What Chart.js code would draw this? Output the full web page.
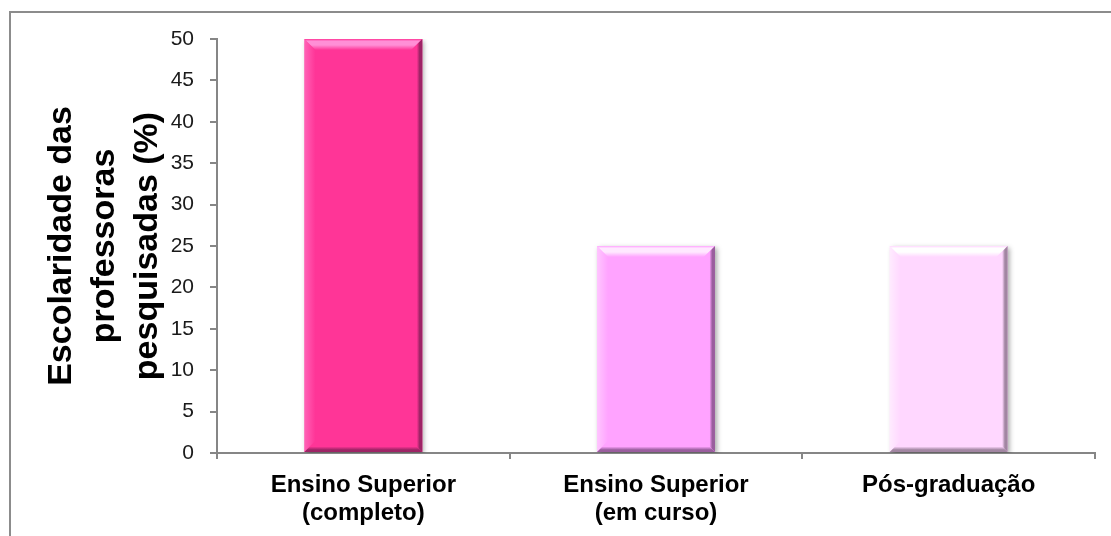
<!DOCTYPE html>
<html>
<head>
<meta charset="utf-8">
<script src="https://cdn.jsdelivr.net/npm/chart.js@4.4.0/dist/chart.umd.min.js"></script>
<style>
    html, body { margin: 0; padding: 0; background: #fff; overflow: hidden; }
    #frame {
        position: absolute; left: 9px; top: 11px;
        width: 1120px; height: 540px;
        border: 2px solid #8c8c8c;
    }
    #wrap { position: absolute; left: 0; top: 0; width: 1111px; height: 536px; }
</style>
</head>
<body>
<div id="frame"></div>
<div id="wrap"><canvas id="escolaridadeChart" width="1111" height="536"></canvas></div>
<script>
// ===================================
// DATA
// ===================================
const categories = [
    ['Ensino Superior', '(completo)'],
    ['Ensino Superior', '(em curso)'],
    ['Pós-graduação']
];
const percentages = [50, 25, 25];
const barColors = ['#FF3597', '#FFA3FF', '#FFD7FF'];
const highlightColors = ['#FF8FD6', '#FFE8FF', '#FFFFFF'];
const edgeColors = ['#9E2466', '#9A5E9E', '#A286A2'];
const yTitle = ['Escolaridade das', 'professoras', 'pesquisadas (%)'];

const AXIS_GRAY = '#868686';

/**
 * Shadow + bevel look of the bars
 */
const bevelPlugin = {
    id: 'bevel',
    beforeDatasetsDraw(chart) {
        const ctx = chart.ctx;
        ctx.save();
        ctx.shadowColor = 'rgba(0,0,0,0.35)';
        ctx.shadowBlur = 5;
        ctx.shadowOffsetX = 2;
        ctx.shadowOffsetY = 2;
    },
    afterDatasetsDraw(chart) {
        const ctx = chart.ctx;
        ctx.restore();
        const meta = chart.getDatasetMeta(0);
        meta.data.forEach((bar, i) => {
            const x0 = bar.x - bar.width / 2;
            const x1 = bar.x + bar.width / 2;
            const y0 = bar.y;
            const y1 = bar.base;
            const b = 11;

            ctx.save();
            // top bevel
            let g = ctx.createLinearGradient(0, y0, 0, y0 + b);
            g.addColorStop(0, barColors[i]);
            g.addColorStop(0.2, highlightColors[i]);
            g.addColorStop(0.55, highlightColors[i]);
            g.addColorStop(1, barColors[i]);
            ctx.fillStyle = g;
            ctx.beginPath();
            ctx.moveTo(x0, y0); ctx.lineTo(x1, y0);
            ctx.lineTo(x1 - b, y0 + b); ctx.lineTo(x0 + b, y0 + b);
            ctx.closePath(); ctx.fill();

            // left bevel
            g = ctx.createLinearGradient(x0, 0, x0 + b, 0);
            g.addColorStop(0, highlightColors[i]);
            g.addColorStop(1, barColors[i]);
            ctx.globalAlpha = 0.5;
            ctx.fillStyle = g;
            ctx.beginPath();
            ctx.moveTo(x0, y0); ctx.lineTo(x0 + b, y0 + b);
            ctx.lineTo(x0 + b, y1 - b); ctx.lineTo(x0, y1);
            ctx.closePath(); ctx.fill();
            ctx.globalAlpha = 1;

            // right bevel
            g = ctx.createLinearGradient(x1, 0, x1 - b, 0);
            g.addColorStop(0, edgeColors[i]);
            g.addColorStop(0.25, edgeColors[i]);
            g.addColorStop(0.5, barColors[i]);
            g.addColorStop(1, barColors[i]);
            ctx.fillStyle = g;
            ctx.beginPath();
            ctx.moveTo(x1, y0); ctx.lineTo(x1, y1);
            ctx.lineTo(x1 - b, y1 - b); ctx.lineTo(x1 - b, y0 + b);
            ctx.closePath(); ctx.fill();

            // bottom bevel
            g = ctx.createLinearGradient(0, y1, 0, y1 - b);
            g.addColorStop(0, edgeColors[i]);
            g.addColorStop(0.2, edgeColors[i]);
            g.addColorStop(0.5, barColors[i]);
            g.addColorStop(1, barColors[i]);
            ctx.fillStyle = g;
            ctx.beginPath();
            ctx.moveTo(x0, y1); ctx.lineTo(x1, y1);
            ctx.lineTo(x1 - b, y1 - b); ctx.lineTo(x0 + b, y1 - b);
            ctx.closePath(); ctx.fill();
            ctx.restore();
        });
    }
};

const ctx = document.getElementById('escolaridadeChart');

new Chart(ctx, {
    type: 'bar',
    data: {
        labels: categories,
        datasets: [{
            data: percentages,
            backgroundColor: barColors,
            borderWidth: 0,
            barPercentage: 0.403,
            categoryPercentage: 1.0
        }]
    },
    options: {
        responsive: false,
        animation: false,
        layout: {
            padding: { left: 0, right: 16, top: 39, bottom: 0 }
        },
        plugins: {
            legend: { display: false },
            tooltip: { enabled: false }
        },
        scales: {
            x: {
                afterFit(scale) { scale.height = 83; },
                grid: {
                    offset: true,
                    drawOnChartArea: false,
                    color: AXIS_GRAY,
                    lineWidth: 2,
                    tickLength: 6
                },
                border: { color: AXIS_GRAY, width: 2 },
                ticks: {
                    color: '#000',
                    padding: 12,
                    maxRotation: 0,
                    autoSkip: false,
                    font: { family: 'Liberation Sans, Arial, sans-serif', size: 24, weight: 'bold', lineHeight: 1.17 }
                }
            },
            y: {
                min: 0,
                max: 50,
                afterFit(scale) { scale.width = 217; },
                grid: {
                    drawOnChartArea: false,
                    color: AXIS_GRAY,
                    lineWidth: 2,
                    tickLength: 7
                },
                border: { color: AXIS_GRAY, width: 2 },
                ticks: {
                    stepSize: 5,
                    color: '#1a1a1a',
                    padding: 16,
                    font: { family: 'Liberation Sans, Arial, sans-serif', size: 21 }
                },
                title: {
                    display: true,
                    text: yTitle,
                    color: '#000',
                    padding: { top: 40, bottom: 0 },
                    font: { family: 'Liberation Sans, Arial, sans-serif', size: 34, weight: 'bold', lineHeight: 1.27 }
                }
            }
        }
    },
    plugins: [bevelPlugin]
});
</script>
</body>
</html>
